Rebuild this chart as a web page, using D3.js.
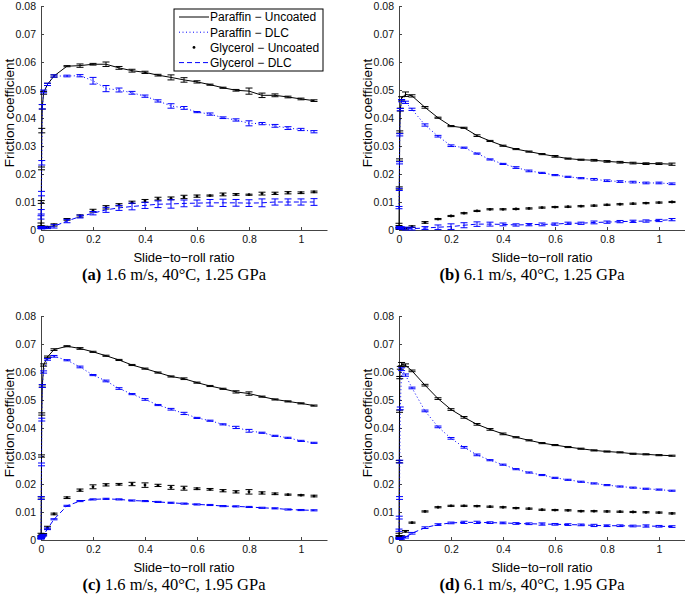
<!DOCTYPE html>
<html>
<head>
<meta charset="utf-8">
<script src="https://cdn.jsdelivr.net/npm/d3@7"></script>
<style>
  body { margin: 0; background: #fff; }
  svg { display: block; }
</style>
</head>
<body>
<svg id="chart" width="685" height="595"></svg>
<script>
// slide-to-roll ratio sample points (shared by all runs)
const srr = [0, 0.001, 0.002, 0.003, 0.005, 0.01, 0.025, 0.05, 0.1, 0.15, 0.2, 0.25, 0.3, 0.35,
  0.4, 0.45, 0.5, 0.55, 0.6, 0.65, 0.7, 0.75, 0.8, 0.85, 0.9, 0.95, 1.0, 1.05];

const xTicks = [0, 0.2, 0.4, 0.6, 0.8, 1];
const yTicks = [0, 0.01, 0.02, 0.03, 0.04, 0.05, 0.06, 0.07, 0.08];
const seriesNames = ["Paraffin \u2212 Uncoated", "Paraffin \u2212 DLC", "Glycerol \u2212 Uncoated", "Glycerol \u2212 DLC"];
const panelLetters = ["a", "b", "c", "d"];
const panelConditions = ["1.6 m/s, 40\u00B0C, 1.25 GPa", "6.1 m/s, 40\u00B0C, 1.25 GPa",
  "1.6 m/s, 40\u00B0C, 1.95 GPa", "6.1 m/s, 40\u00B0C, 1.95 GPa"];

// (a) 1.6 m/s, 1.25 GPa
const aParUnc = [0.002, 0.010, 0.022, 0.0355, 0.044, 0.049, 0.052, 0.055, 0.0585, 0.0587, 0.0592, 0.0592, 0.0579, 0.0569,
  0.0563, 0.0553, 0.0545, 0.0536, 0.0529, 0.0519, 0.0508, 0.0499, 0.0496, 0.0481, 0.0481, 0.0475, 0.0468, 0.0462];
const aParUncErr = [0.0005, 0.0005, 0.0005, 0.0008, 0.0008, 0.0005, 0.0004, 0.0004, 0.0002, 0.0006, 0.0003, 0.0008, 0.0005, 0.0005,
  0.0004, 0.0003, 0.0009, 0.0008, 0.0004, 0.0002, 0.0002, 0.0003, 0.0011, 0.0008, 0.0005, 0.0003, 0.0003, 0.0003];
const aParDlc = [0.0045, 0.0065, 0.013, 0.024, 0.044, 0.0495, 0.052, 0.055, 0.055, 0.0551, 0.0533, 0.0505, 0.050, 0.049,
  0.0478, 0.0461, 0.0443, 0.0436, 0.0421, 0.0414, 0.0401, 0.0393, 0.0381, 0.038, 0.0372, 0.0364, 0.0359, 0.0351];
const aParDlcErr = [0.0006, 0.0008, 0.0008, 0.0008, 0.0008, 0.0005, 0.0004, 0.0004, 0.0003, 0.0004, 0.0012, 0.0011, 0.0007, 0.0005,
  0.0004, 0.0004, 0.0008, 0.0005, 0.0002, 0.0004, 0.0003, 0.0004, 0.0009, 0.0004, 0.0005, 0.0005, 0.0004, 0.0004];
const aGlyUnc = [0.001, 0.001, 0.001, 0.001, 0.001, 0.001, 0.001, 0.0018, 0.0038, 0.005, 0.0069, 0.0081, 0.009, 0.0099,
  0.0104, 0.0112, 0.0113, 0.0118, 0.0121, 0.0123, 0.0127, 0.0127, 0.0126, 0.013, 0.0131, 0.0133, 0.0133, 0.0136];
const aGlyUncErr = [0.0003, 0.0003, 0.0003, 0.0003, 0.0003, 0.0003, 0.0003, 0.0004, 0.0003, 0.0004, 0.0005, 0.0006, 0.0004, 0.0004,
  0.0005, 0.0005, 0.0005, 0.0006, 0.0004, 0.0002, 0.0005, 0.0003, 0.0002, 0.0005, 0.0004, 0.0004, 0.0003, 0.0003];
const aGlyDlc = [0.0008, 0.0008, 0.0008, 0.0008, 0.0008, 0.0008, 0.0008, 0.0013, 0.0032, 0.0048, 0.006, 0.0072, 0.0079, 0.0084,
  0.0088, 0.0092, 0.0093, 0.0095, 0.0096, 0.0097, 0.0097, 0.0097, 0.0096, 0.0097, 0.010, 0.010, 0.010, 0.010];
const aGlyDlcErr = [0.0003, 0.0003, 0.0003, 0.0003, 0.0003, 0.0003, 0.0003, 0.0006, 0.0006, 0.0005, 0.0006, 0.0009, 0.0009, 0.0012,
  0.0011, 0.0012, 0.0015, 0.0012, 0.0011, 0.0012, 0.0013, 0.0012, 0.0012, 0.0014, 0.0011, 0.0011, 0.0011, 0.0012];

// (b) 6.1 m/s, 1.25 GPa
const bParUnc = [0.002, 0.015, 0.025, 0.035, 0.043, 0.047, 0.0485, 0.0479, 0.0438, 0.0401, 0.0371, 0.0365, 0.0337, 0.0318,
  0.0301, 0.0289, 0.028, 0.0271, 0.0263, 0.0255, 0.0251, 0.0249, 0.0245, 0.0242, 0.0239, 0.0237, 0.0237, 0.0235];
const bParUncErr = [0.0004, 0.0004, 0.0004, 0.0004, 0.0005, 0.0006, 0.0008, 0.0004, 0.0003, 0.0002, 0.0002, 0.0002, 0.0003, 0.0002,
  0.0002, 0.0002, 0.0002, 0.0002, 0.0003, 0.0002, 0.0002, 0.0003, 0.0003, 0.0003, 0.0003, 0.0003, 0.0003, 0.0004];
const bParDlc = [0.008, 0.0145, 0.024, 0.034, 0.043, 0.0462, 0.0456, 0.0431, 0.0375, 0.0335, 0.0301, 0.0294, 0.0273, 0.0252,
  0.0236, 0.0223, 0.0211, 0.0204, 0.0196, 0.019, 0.0185, 0.0181, 0.0176, 0.0173, 0.0171, 0.0168, 0.0168, 0.0165];
const bParDlcErr = [0.0004, 0.0004, 0.0004, 0.0004, 0.0004, 0.0004, 0.0004, 0.0004, 0.0004, 0.0003, 0.0003, 0.0002, 0.0002, 0.0002,
  0.0002, 0.0003, 0.0003, 0.0002, 0.0002, 0.0002, 0.0002, 0.0003, 0.0003, 0.0003, 0.0003, 0.0003, 0.0003, 0.0003];
const bGlyUnc = [0.0006, 0.0006, 0.0006, 0.0006, 0.0006, 0.0006, 0.0006, 0.0012, 0.0027, 0.0039, 0.005, 0.006, 0.0068, 0.0074,
  0.0074, 0.0075, 0.0077, 0.008, 0.0082, 0.0083, 0.0085, 0.0087, 0.009, 0.0092, 0.0094, 0.0096, 0.0098, 0.010];
const bGlyUncErr = [0.0003, 0.0003, 0.0003, 0.0003, 0.0003, 0.0003, 0.0003, 0.0003, 0.0003, 0.0002, 0.0002, 0.0002, 0.0002, 0.0002,
  0.0002, 0.0002, 0.0002, 0.0002, 0.0002, 0.0002, 0.0002, 0.0002, 0.0002, 0.0002, 0.0002, 0.0002, 0.0002, 0.0002];
const bGlyDlc = [0.0008, 0.0008, 0.0008, 0.0008, 0.0008, 0.0007, 0.0005, 0.0005, 0.0007, 0.001, 0.0012, 0.0017, 0.0021, 0.0021,
  0.002, 0.0018, 0.0019, 0.002, 0.0021, 0.0024, 0.0024, 0.0027, 0.0028, 0.003, 0.0031, 0.0032, 0.0034, 0.0037];
const bGlyDlcErr = [0.0003, 0.0003, 0.0003, 0.0003, 0.0003, 0.0004, 0.0005, 0.0005, 0.0005, 0.0008, 0.001, 0.0009, 0.0008, 0.0007,
  0.0005, 0.0004, 0.0004, 0.0005, 0.0004, 0.0004, 0.0004, 0.0005, 0.0004, 0.0004, 0.0004, 0.0004, 0.0004, 0.0004];

// (c) 1.6 m/s, 1.95 GPa
const cParUnc = [0.002, 0.015, 0.030, 0.045, 0.055, 0.0625, 0.0654, 0.068, 0.0692, 0.0684, 0.0672, 0.0658, 0.0643, 0.0625,
  0.0612, 0.0598, 0.0584, 0.0576, 0.0562, 0.055, 0.054, 0.0529, 0.0523, 0.0512, 0.0502, 0.0495, 0.0488, 0.048];
const cParUncErr = [0.0004, 0.0004, 0.0004, 0.0004, 0.0004, 0.0004, 0.0003, 0.0003, 0.0002, 0.0003, 0.0002, 0.0002, 0.0002, 0.0002,
  0.0002, 0.0002, 0.0002, 0.0003, 0.0002, 0.0002, 0.0002, 0.0004, 0.0006, 0.0002, 0.0002, 0.0002, 0.0002, 0.0002];
const cParDlc = [0.001, 0.015, 0.027, 0.043, 0.055, 0.060, 0.0645, 0.0656, 0.0642, 0.0618, 0.0589, 0.0568, 0.0541, 0.0521,
  0.0502, 0.0482, 0.0467, 0.0452, 0.0436, 0.0426, 0.0413, 0.0402, 0.039, 0.0383, 0.0372, 0.0365, 0.0354, 0.0347];
const cParDlcErr = [0.0004, 0.0005, 0.0005, 0.0005, 0.0005, 0.0004, 0.0003, 0.0003, 0.0002, 0.0003, 0.0002, 0.0003, 0.0003, 0.0002,
  0.0003, 0.0002, 0.0003, 0.0004, 0.0002, 0.0002, 0.0002, 0.0004, 0.0005, 0.0002, 0.0002, 0.0002, 0.0002, 0.0002];
const cGlyUnc = [0.0008, 0.001, 0.0012, 0.0015, 0.0018, 0.002, 0.0044, 0.0093, 0.0151, 0.0178, 0.019, 0.0197, 0.0199, 0.020,
  0.0196, 0.0195, 0.0188, 0.0185, 0.0183, 0.0181, 0.0176, 0.0172, 0.0172, 0.0168, 0.0165, 0.0162, 0.016, 0.0157];
const cGlyUncErr = [0.0003, 0.0003, 0.0003, 0.0003, 0.0003, 0.0003, 0.0005, 0.0003, 0.0003, 0.0004, 0.0007, 0.0004, 0.0003, 0.0006,
  0.0008, 0.0004, 0.0007, 0.0007, 0.0003, 0.0003, 0.0004, 0.0004, 0.0008, 0.0004, 0.0003, 0.0002, 0.0002, 0.0003];
const cGlyDlc = [0.0006, 0.0008, 0.001, 0.0012, 0.0014, 0.0017, 0.004, 0.0074, 0.0122, 0.0139, 0.0145, 0.0147, 0.0145, 0.0141,
  0.0139, 0.0136, 0.0133, 0.013, 0.0127, 0.0125, 0.0121, 0.012, 0.0118, 0.0115, 0.0113, 0.0109, 0.0107, 0.0106];
const cGlyDlcErr = [0.0003, 0.0003, 0.0003, 0.0003, 0.0003, 0.0003, 0.0003, 0.0002, 0.0002, 0.0002, 0.0002, 0.0002, 0.0002, 0.0002,
  0.0002, 0.0002, 0.0002, 0.0002, 0.0002, 0.0002, 0.0002, 0.0002, 0.0002, 0.0002, 0.0002, 0.0002, 0.0002, 0.0002];

// (d) 6.1 m/s, 1.95 GPa
const dParUnc = [0.002, 0.028, 0.046, 0.058, 0.0615, 0.0628, 0.0624, 0.0604, 0.0553, 0.0505, 0.0466, 0.0438, 0.0413, 0.0395,
  0.0379, 0.0367, 0.0356, 0.0346, 0.0339, 0.0332, 0.0326, 0.032, 0.0316, 0.0313, 0.0308, 0.0306, 0.0303, 0.0301];
const dParUncErr = [0.0004, 0.0004, 0.0004, 0.0004, 0.0005, 0.0006, 0.0005, 0.0003, 0.0003, 0.0003, 0.0003, 0.0003, 0.0003, 0.0003,
  0.0003, 0.0002, 0.0002, 0.0002, 0.0002, 0.0002, 0.0002, 0.0002, 0.0002, 0.0002, 0.0002, 0.0002, 0.0002, 0.0002];
const dParDlc = [0.0035, 0.008, 0.015, 0.028, 0.047, 0.061, 0.0589, 0.0543, 0.0461, 0.0404, 0.0363, 0.0331, 0.0304, 0.0285,
  0.0269, 0.0253, 0.0241, 0.0232, 0.0222, 0.0215, 0.0208, 0.0202, 0.0196, 0.0191, 0.0187, 0.0183, 0.018, 0.0176];
const dParDlcErr = [0.0004, 0.0005, 0.0005, 0.0005, 0.0005, 0.0005, 0.0004, 0.0003, 0.0003, 0.0003, 0.0003, 0.0003, 0.0003, 0.0002,
  0.0002, 0.0002, 0.0002, 0.0002, 0.0002, 0.0002, 0.0002, 0.0002, 0.0002, 0.0002, 0.0002, 0.0002, 0.0002, 0.0002];
const dGlyUnc = [0.0008, 0.0008, 0.0008, 0.001, 0.001, 0.0012, 0.0031, 0.0062, 0.0102, 0.0117, 0.0122, 0.0122, 0.0121, 0.0119,
  0.0117, 0.0114, 0.0112, 0.0108, 0.0107, 0.0106, 0.0103, 0.0103, 0.0102, 0.0101, 0.010, 0.0099, 0.0098, 0.0095];
const dGlyUncErr = [0.0003, 0.0003, 0.0003, 0.0003, 0.0003, 0.0003, 0.0003, 0.0002, 0.0002, 0.0002, 0.0002, 0.0002, 0.0002, 0.0002,
  0.0002, 0.0002, 0.0002, 0.0002, 0.0002, 0.0002, 0.0002, 0.0002, 0.0002, 0.0002, 0.0002, 0.0002, 0.0002, 0.0002];
const dGlyDlc = [0.0006, 0.0006, 0.0006, 0.0006, 0.0006, 0.0006, 0.001, 0.0024, 0.0044, 0.0055, 0.0061, 0.0063, 0.0063, 0.0062,
  0.0061, 0.0059, 0.0058, 0.0057, 0.0056, 0.0055, 0.0054, 0.0052, 0.0051, 0.0051, 0.005, 0.005, 0.0049, 0.0048];
const dGlyDlcErr = [0.0003, 0.0003, 0.0003, 0.0003, 0.0003, 0.0003, 0.0003, 0.0003, 0.0003, 0.0003, 0.0003, 0.0004, 0.0004, 0.0003,
  0.0003, 0.0003, 0.0003, 0.0004, 0.0003, 0.0003, 0.0003, 0.0004, 0.0003, 0.0003, 0.0003, 0.0004, 0.0003, 0.0003];

// PANEL SETUP
const panelValues = [
  [aParUnc, aParDlc, aGlyUnc, aGlyDlc],
  [bParUnc, bParDlc, bGlyUnc, bGlyDlc],
  [cParUnc, cParDlc, cGlyUnc, cGlyDlc],
  [dParUnc, dParDlc, dGlyUnc, dGlyDlc]
];
const panelErrors = [
  [aParUncErr, aParDlcErr, aGlyUncErr, aGlyDlcErr],
  [bParUncErr, bParDlcErr, bGlyUncErr, bGlyDlcErr],
  [cParUncErr, cParDlcErr, cGlyUncErr, cGlyDlcErr],
  [dParUncErr, dParDlcErr, dGlyUncErr, dGlyDlcErr]
];
const panelOrigins = [[41, 6], [399, 6], [41, 316], [399, 316]];

const seriesStyles = [
  { color: "#000", dash: null, line: true },
  { color: "#0000ff", dash: "1,2.5", line: true },
  { color: "#000", dash: null, line: false },
  { color: "#0000ff", dash: "5,3", line: true }
];

const plotW = 286, plotH = 224;
const tickFont = "'Liberation Sans', Arial, sans-serif";

const svg = d3.select("#chart");

const xScale = d3.scaleLinear().domain([0, 1.1]).range([0, plotW]);
const yScale = d3.scaleLinear().domain([0, 0.08]).range([plotH, 0]);

const drawPanel = (p) => {
  const [ox, oy] = panelOrigins[p];
  const g = svg.append("g").attr("transform", `translate(${ox},${oy})`);

  // AXES
  const xAxis = d3.axisBottom(xScale).tickValues(xTicks).tickSizeInner(-3).tickSizeOuter(0)
    .tickPadding(6).tickFormat(d3.format("~g"));
  const yAxis = d3.axisLeft(yScale).tickValues(yTicks).tickSizeInner(-3).tickSizeOuter(0)
    .tickPadding(5).tickFormat(d => d === 0 ? "0" : d3.format(".2f")(d));

  const gx = g.append("g").attr("transform", `translate(0,${plotH})`).call(xAxis);
  const gy = g.append("g").call(yAxis);
  [gx, gy].forEach(a => {
    a.select(".domain").attr("stroke", "#444");
    a.selectAll(".tick line").attr("stroke", "#444");
    a.selectAll("text").attr("font-family", tickFont).attr("font-size", 10.5).attr("fill", "#111");
  });

  // AXIS LABELS
  g.append("text")
    .attr("x", plotW / 2).attr("y", plotH + 32)
    .attr("text-anchor", "middle")
    .attr("font-family", tickFont).attr("font-size", 13)
    .text("Slide\u2212to\u2212roll ratio");

  g.append("text")
    .attr("transform", `translate(-27,${plotH / 2 - 5}) rotate(-90)`)
    .attr("text-anchor", "middle")
    .attr("font-family", tickFont).attr("font-size", 13.5)
    .text("Friction coefficient");

  // CAPTION
  const cap = g.append("text")
    .attr("x", plotW / 2 - 10).attr("y", plotH + 50)
    .attr("text-anchor", "middle")
    .attr("font-family", "'Liberation Serif', 'Times New Roman', serif")
    .attr("font-size", 16.5);
  cap.append("tspan").attr("font-weight", "bold").text(`(${panelLetters[p]})`);
  cap.append("tspan").text(" " + panelConditions[p]);

  // SERIES
  panelValues[p].forEach((vals, s) => {
    const st = seriesStyles[s];
    const errs = panelErrors[p][s];
    const pts = srr.map((x, i) => ({ x, y: vals[i], e: errs[i] }));

    if (st.line) {
      const line = d3.line().x(d => xScale(d.x)).y(d => yScale(d.y));
      g.append("path")
        .attr("d", line(pts))
        .attr("fill", "none")
        .attr("stroke", st.color)
        .attr("stroke-width", 1)
        .attr("stroke-dasharray", st.dash);
    }

    const eb = g.append("g").attr("stroke", st.color).attr("stroke-width", 1).attr("fill", "none");
    pts.forEach(d => {
      const cx = xScale(d.x), y1 = yScale(d.y + d.e), y2 = yScale(d.y - d.e);
      eb.append("line").attr("x1", cx).attr("x2", cx).attr("y1", y1).attr("y2", y2);
      eb.append("line").attr("x1", cx - 3.5).attr("x2", cx + 3.5).attr("y1", y1).attr("y2", y1);
      eb.append("line").attr("x1", cx - 3.5).attr("x2", cx + 3.5).attr("y1", y2).attr("y2", y2);
    });

    if (!st.line) {
      g.append("g").selectAll("circle").data(pts).join("circle")
        .attr("cx", d => xScale(d.x)).attr("cy", d => yScale(d.y))
        .attr("r", 1.4).attr("fill", st.color);
    }
  });

  return g;
};

const panelGroups = panelLetters.map((_, p) => drawPanel(p));

// LEGEND (panel a only)
const lg = panelGroups[0].append("g").attr("transform", "translate(133,3)");
lg.append("rect").attr("width", 149).attr("height", 62)
  .attr("fill", "#fff").attr("stroke", "#000").attr("stroke-width", 1);
seriesNames.forEach((name, i) => {
  const st = seriesStyles[i];
  const yy = 8 + i * 15.2;
  if (st.line) {
    lg.append("line").attr("x1", 5).attr("x2", 35).attr("y1", yy).attr("y2", yy)
      .attr("stroke", st.color).attr("stroke-width", 1).attr("stroke-dasharray", st.dash);
  } else {
    lg.append("circle").attr("cx", 20).attr("cy", yy).attr("r", 1.4).attr("fill", st.color);
  }
  lg.append("text").attr("x", 36).attr("y", yy).attr("dy", "0.36em")
    .attr("font-family", tickFont).attr("font-size", 12).text(name);
});
</script>
</body>
</html>
